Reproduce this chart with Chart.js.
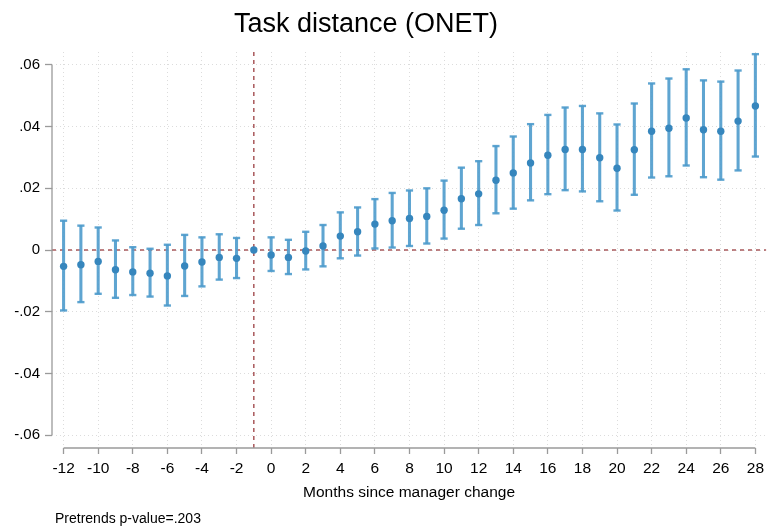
<!DOCTYPE html>
<html>
<head>
<meta charset="utf-8">
<script src="https://cdn.jsdelivr.net/npm/chart.js@4"></script>
<style>
  html, body { margin: 0; padding: 0; background: #fff; }
  canvas { display: block; }
</style>
</head>
<body>
<canvas id="chart" width="769" height="529"></canvas>
<script>
// event-study estimates, months relative to manager change
const months = [-12, -11, -10, -9, -8, -7, -6, -5, -4, -3, -2, -1, 0, 1, 2, 3, 4, 5, 6, 7,
  8, 9, 10, 11, 12, 13, 14, 15, 16, 17, 18, 19, 20, 21, 22, 23, 24, 25, 26, 27, 28];
const estimates = [-0.0053, -0.0048, -0.0037, -0.0064, -0.0071, -0.0075, -0.0084, -0.0052, -0.0039, -0.0024,
  -0.0027, 0, -0.0016, -0.0024, -0.0003, 0.0013, 0.0045, 0.0059, 0.0084, 0.0095,
  0.0102, 0.0109, 0.0129, 0.0166, 0.0182, 0.0226, 0.0250, 0.0282, 0.0307, 0.0326,
  0.0326, 0.0299, 0.0265, 0.0325, 0.0385, 0.0395, 0.0428, 0.0390, 0.0385, 0.0418, 0.0467];
const ciHigh = [0.0095, 0.0079, 0.0073, 0.0031, 0.0009, 0.0004, 0.0017, 0.0049, 0.0041, 0.0051,
  0.0039, null, 0.0041, 0.0033, 0.0059, 0.0081, 0.0122, 0.0138, 0.0165, 0.0185,
  0.0193, 0.0200, 0.0225, 0.0267, 0.0288, 0.0337, 0.0368, 0.0408, 0.0438, 0.0462,
  0.0467, 0.0443, 0.0407, 0.0475, 0.0540, 0.0556, 0.0586, 0.0550, 0.0546, 0.0582, 0.0635];
const ciLow = [-0.0196, -0.0169, -0.0142, -0.0155, -0.0146, -0.0151, -0.0180, -0.0149, -0.0118, -0.0096,
  -0.0091, null, -0.0068, -0.0078, -0.0063, -0.0053, -0.0027, -0.0018, 0.0005, 0.0008,
  0.0013, 0.0021, 0.0037, 0.0069, 0.0081, 0.0119, 0.0134, 0.0161, 0.0181, 0.0194,
  0.0190, 0.0158, 0.0128, 0.0179, 0.0235, 0.0239, 0.0274, 0.0236, 0.0228, 0.0258, 0.0303];

const xTicks = [-12, -10, -8, -6, -4, -2, 0, 2, 4, 6, 8, 10, 12, 14, 16, 18, 20, 22, 24, 26, 28];
const yTicks = [-0.06, -0.04, -0.02, 0, 0.02, 0.04, 0.06];
const refX = -1;
const refY = 0;

const FONT = "'Liberation Sans', Arial, Helvetica, sans-serif";
const dotColor = '#3686bd';
const barColor = 'rgba(78, 155, 204, 0.9)';
const refColor = '#9c3f42';
const axisColor = '#9a9a9a';
const gridColor = '#dcdcdc';

function yLabel(v) {
  if (v === 0) return '0';
  return v.toFixed(2).replace('0.', '.');
}

// stata-style decorations: reference lines, short axis lines, title and note
const decor = {
  id: 'decor',
  beforeDatasetsDraw(chart) {
    const {ctx, chartArea, scales} = chart;
    ctx.save();
    ctx.strokeStyle = refColor;
    ctx.lineWidth = 1.3;
    ctx.setLineDash([4, 4]);
    const py = scales.y.getPixelForValue(refY);
    ctx.beginPath();
    ctx.moveTo(chartArea.left, py);
    ctx.lineTo(chartArea.right, py);
    ctx.stroke();
    const px = scales.x.getPixelForValue(refX);
    ctx.beginPath();
    ctx.moveTo(px, chartArea.top);
    ctx.lineTo(px, chartArea.bottom);
    ctx.stroke();
    ctx.restore();
  },
  afterDraw(chart) {
    const {ctx, chartArea, scales} = chart;
    ctx.save();
    ctx.strokeStyle = axisColor;
    ctx.lineWidth = 1.3;
    ctx.beginPath();
    ctx.moveTo(chartArea.left, scales.y.getPixelForValue(yTicks[yTicks.length - 1]));
    ctx.lineTo(chartArea.left, scales.y.getPixelForValue(yTicks[0]));
    ctx.moveTo(scales.x.getPixelForValue(xTicks[0]), chartArea.bottom);
    ctx.lineTo(scales.x.getPixelForValue(xTicks[xTicks.length - 1]), chartArea.bottom);
    ctx.stroke();

    ctx.fillStyle = '#000';
    ctx.textAlign = 'center';
    ctx.textBaseline = 'alphabetic';
    ctx.font = '27px ' + FONT;
    ctx.fillText('Task distance (ONET)', 366, 32);
    ctx.textAlign = 'left';
    ctx.font = '14px ' + FONT;
    ctx.fillText('Pretrends p-value=.203', 55, 523);
    ctx.restore();
  }
};

new Chart(document.getElementById('chart'), {
  data: {
    datasets: [
      {
        type: 'bar',
        data: months.map((m, i) => ({x: m, y: ciLow[i] === null ? null : [ciLow[i], ciHigh[i]]})),
        backgroundColor: barColor,
        borderWidth: 0,
        barThickness: 2.4,
        order: 3
      },
      {
        type: 'scatter',
        data: months.map((m, i) => ({x: m, y: ciHigh[i]})),
        pointStyle: 'line',
        radius: 3.6,
        borderWidth: 2.4,
        borderColor: barColor,
        order: 2
      },
      {
        type: 'scatter',
        data: months.map((m, i) => ({x: m, y: ciLow[i]})),
        pointStyle: 'line',
        radius: 3.6,
        borderWidth: 2.4,
        borderColor: barColor,
        order: 2
      },
      {
        type: 'scatter',
        data: months.map((m, i) => ({x: m, y: estimates[i]})),
        pointStyle: 'circle',
        radius: 3.7,
        borderWidth: 0,
        backgroundColor: dotColor,
        order: 1
      }
    ]
  },
  options: {
    responsive: false,
    animation: false,
    devicePixelRatio: 1,
    layout: {
      autoPadding: false,
      padding: {top: 52, left: 0, right: 0, bottom: 0}
    },
    plugins: {
      legend: {display: false},
      tooltip: {enabled: false}
    },
    scales: {
      x: {
        type: 'linear',
        min: -12.67,
        max: 28.62,
        offset: false,
        afterBuildTicks: (scale) => { scale.ticks = xTicks.map((v) => ({value: v})); },
        afterFit: (scale) => { scale.height = 81; },
        border: {display: false, dash: [1, 3]},
        grid: {
          offset: false,
          color: gridColor,
          tickLength: 6,
          tickColor: axisColor,
          tickWidth: 1.3,
          tickBorderDash: []
        },
        ticks: {
          autoSkip: false,
          maxRotation: 0,
          padding: 5,
          color: '#000',
          font: {family: FONT, size: 15.5}
        },
        title: {
          display: true,
          text: 'Months since manager change',
          color: '#000',
          font: {family: FONT, size: 15.5},
          padding: {top: 0, bottom: 27}
        }
      },
      y: {
        type: 'linear',
        min: -0.0642,
        max: 0.0642,
        afterBuildTicks: (scale) => { scale.ticks = yTicks.map((v) => ({value: v})); },
        afterFit: (scale) => { scale.width = 52; },
        border: {display: false, dash: [1, 3]},
        grid: {
          color: gridColor,
          tickLength: 7,
          tickColor: axisColor,
          tickWidth: 1.3,
          tickBorderDash: []
        },
        ticks: {
          padding: 5,
          color: '#000',
          font: {family: FONT, size: 15},
          callback: (v) => yLabel(v)
        }
      }
    }
  },
  plugins: [decor]
});
</script>
</body>
</html>
